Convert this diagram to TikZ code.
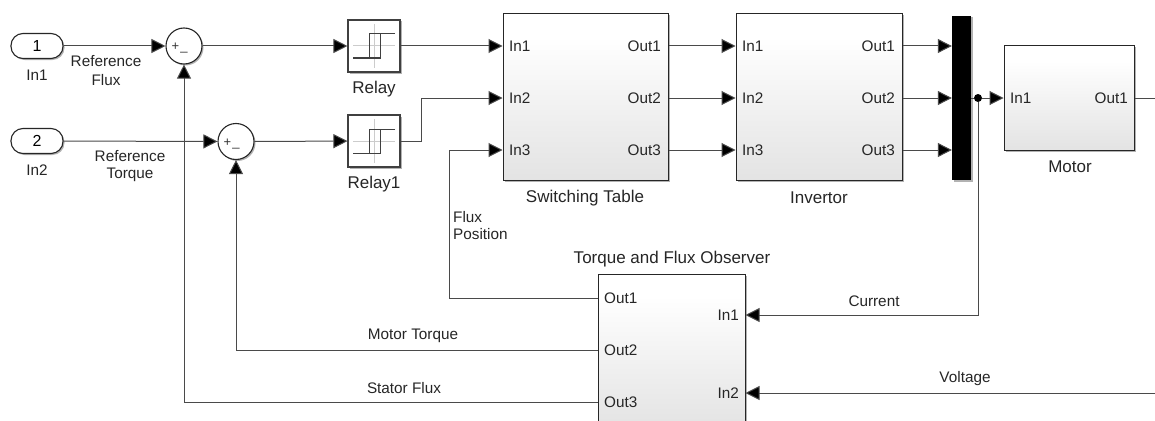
\documentclass[tikz,border=0pt]{standalone}
\usepackage{fontspec}
\setmainfont{Liberation Sans}
\usetikzlibrary{arrows.meta,shadows,calc}
\definecolor{wire}{HTML}{4A4A4A}
\pgfdeclareverticalshading{blockshade}{100bp}{
  color(0bp)=(black!17); color(8bp)=(black!15); color(45bp)=(black!6); color(68bp)=(white); color(100bp)=(white)}
\tikzset{
  x=1pt,y=-1pt,
  lab/.style={font=\fontsize{15.3}{16}\selectfont,text=black!85,inner sep=0pt,anchor=center},
  namelab/.style={font=\fontsize{17}{18}\selectfont,text=black!85,inner sep=0pt,anchor=center},
  labl/.style={lab,anchor=west},
  labr/.style={lab,anchor=east},
  sh/.style={drop shadow={shadow xshift=1.5pt,shadow yshift=-1.5pt,opacity=.3,fill=black}},
  subsys/.style={draw=black!85,line width=1pt,sh,inner sep=0pt,shading=blockshade},
  relaybox/.style={draw=black!75,line width=1.1pt,fill=white,sh,minimum size=52pt,inner sep=0pt},
  sumnode/.style={circle,draw=black!85,line width=1.1pt,fill=white,sh,minimum size=36pt,inner sep=0pt},
  inport/.style={rounded corners=12pt,draw=black!85,line width=1.1pt,fill=white,sh,minimum width=52pt,minimum height=25pt,inner sep=0pt,font=\fontsize{16}{16}\selectfont},
  sig/.style={draw=wire,line width=1pt,-{Triangle[length=14pt,width=14pt,fill=black]}},
  plain/.style={draw=wire,line width=1pt},
  dotn/.style={circle,fill=black,minimum size=8pt,inner sep=0pt},
  ax/.style={draw=black!20,line width=1pt},
  hy/.style={draw=black!75,line width=1pt},
}
\newcommand{\relayicon}[1]{%
  \begin{scope}[shift={(#1)}]
    \draw[ax] (0,-22) -- (0,22);
    \draw[ax] (-21,0) -- (21,0);
    \draw[hy] (-21,12) -- (6,12) -- (6,-12);
    \draw[hy] (21,-12) -- (-5,-12) -- (-5,12);
  \end{scope}}
\newcommand{\sumsigns}[1]{%
  \node[font=\fontsize{13}{10}\selectfont,inner sep=0pt,text=black!80] at ($(#1)+(-8.5,1)$) {+};
  \node[font=\fontsize{13}{10}\selectfont,inner sep=0pt,text=black!80] at ($(#1)+(0,6)$) {\_};}
\begin{document}
\begin{tikzpicture}
\useasboundingbox (0,0) rectangle (1155,420);
\clip (0,0) rectangle (1155,420);
\fill[white] (0,0) rectangle (1155,420);
% blocks
\node[inport] (in1) at (37,46) {1};
\node[inport] (in2) at (37,141) {2};
\node[sumnode] (sum1) at (184,46) {};
\node[sumnode] (sum2) at (236,141.5) {};
\sumsigns{sum1}
\sumsigns{sum2}
\node[relaybox] (relay) at (374,46) {};
\node[relaybox] (relay1) at (374,141) {};
\relayicon{374,46}
\relayicon{374,141}
\node[subsys,minimum width=165pt,minimum height=166pt] (st) at (585.5,97) {};
\node[subsys,minimum width=166pt,minimum height=166pt] (inv) at (819,97) {};
\node[subsys,minimum width=130pt,minimum height=104pt] (motor) at (1069,98) {};
\node[subsys,minimum width=147pt,minimum height=156pt] (obs) at (671.5,352) {};
\node[fill=black,sh,minimum width=19pt,minimum height=164pt,inner sep=0pt] (mux) at (961.5,98) {};
% ports
\coordinate (stI1) at (st.west|-0,46);
\coordinate (stI2) at (st.west|-0,98);
\coordinate (stI3) at (st.west|-0,150);
\coordinate (stO1) at (st.east|-0,46);
\coordinate (stO2) at (st.east|-0,98);
\coordinate (stO3) at (st.east|-0,150);
\coordinate (invI1) at (inv.west|-0,46);
\coordinate (invI2) at (inv.west|-0,98);
\coordinate (invI3) at (inv.west|-0,150);
\coordinate (invO1) at (inv.east|-0,46);
\coordinate (invO2) at (inv.east|-0,98);
\coordinate (invO3) at (inv.east|-0,150);
\coordinate (muxI1) at (mux.west|-0,46);
\coordinate (muxI2) at (mux.west|-0,98);
\coordinate (muxI3) at (mux.west|-0,150);
\coordinate (obsO1) at (obs.west|-0,298);
\coordinate (obsO2) at (obs.west|-0,350);
\coordinate (obsO3) at (obs.west|-0,402);
\coordinate (obsI1) at (obs.east|-0,315);
\coordinate (obsI2) at (obs.east|-0,393);
\coordinate (rightTop) at (1155,98);
\coordinate (rightBot) at (1155,393);
\node[dotn] (junc) at (978,98) {};
% connectors
\draw[sig] (in1) -- (sum1);
\draw[sig] (in2) -- (sum2);
\draw[sig] (sum1) -- (relay);
\draw[sig] (sum2) -- (relay1);
\draw[sig] (relay) -- (stI1);
\draw[sig] (relay1.east) -- (421,141) -- (421,98) -- (stI2);
\draw[sig] (stO1) -- (invI1);
\draw[sig] (stO2) -- (invI2);
\draw[sig] (stO3) -- (invI3);
\draw[sig] (invO1) -- (muxI1);
\draw[sig] (invO2) -- (muxI2);
\draw[sig] (invO3) -- (muxI3);
\draw[plain] (mux.east) -- (junc);
\draw[sig] (junc) -- (motor.west);
\draw[plain] (motor.east) -- (rightTop);
\draw[sig] (junc) -- (978,315) -- (obsI1);
\draw[sig] (rightBot) -- (obsI2);
\draw[sig] (obsO1) -- (449,298) -- (449,150) -- (stI3);
\draw[sig] (obsO2) -- (236,350) -- (sum2);
\draw[sig] (obsO3) -- (184,402) -- (sum1);
% labels
\node[lab] (l1) at (37,75) {In1};
\node[lab] (l2) at (37,170) {In2};
\node[lab] (l3) at (106,61) {Reference};
\node[lab] (l4) at (106,80) {Flux};
\node[lab] (l5) at (130,156) {Reference};
\node[lab] (l6) at (130,175) {Torque};
\node[namelab] (l7) at (374,89) {Relay};
\node[namelab] (l8) at (374,184) {Relay1};
\node[namelab] (l9) at (585,198) {Switching Table};
\node[namelab] (l10) at (819,198) {Invertor};
\node[namelab] (l11) at (1070,167) {Motor};
\node[namelab] (l12) at (672,259) {Torque and Flux Observer};
\node[labl] (l13) at (453,217) {Flux};
\node[labl] (l14) at (453,234) {Position};
\node[lab] (l15) at (874,301) {Current};
\node[lab] (l16) at (965,379) {Voltage};
\node[lab] (l17) at (413,336) {Motor Torque};
\node[lab] (l18) at (404,388) {Stator Flux};
\node[labl] (p1) at (509,46) {In1};
\node[labl] (p2) at (509,98) {In2};
\node[labl] (p3) at (509,150) {In3};
\node[labr] (p4) at (661,46) {Out1};
\node[labr] (p5) at (661,98) {Out2};
\node[labr] (p6) at (661,150) {Out3};
\node[labl] (p7) at (742,46) {In1};
\node[labl] (p8) at (742,98) {In2};
\node[labl] (p9) at (742,150) {In3};
\node[labr] (p10) at (895,46) {Out1};
\node[labr] (p11) at (895,98) {Out2};
\node[labr] (p12) at (895,150) {Out3};
\node[labl] (p13) at (1010,98) {In1};
\node[labr] (p14) at (1128,98) {Out1};
\node[labl] (p15) at (604,298) {Out1};
\node[labl] (p16) at (604,350) {Out2};
\node[labl] (p17) at (604,402) {Out3};
\node[labr] (p18) at (739,315) {In1};
\node[labr] (p19) at (739,393) {In2};
\end{tikzpicture}
\end{document}
